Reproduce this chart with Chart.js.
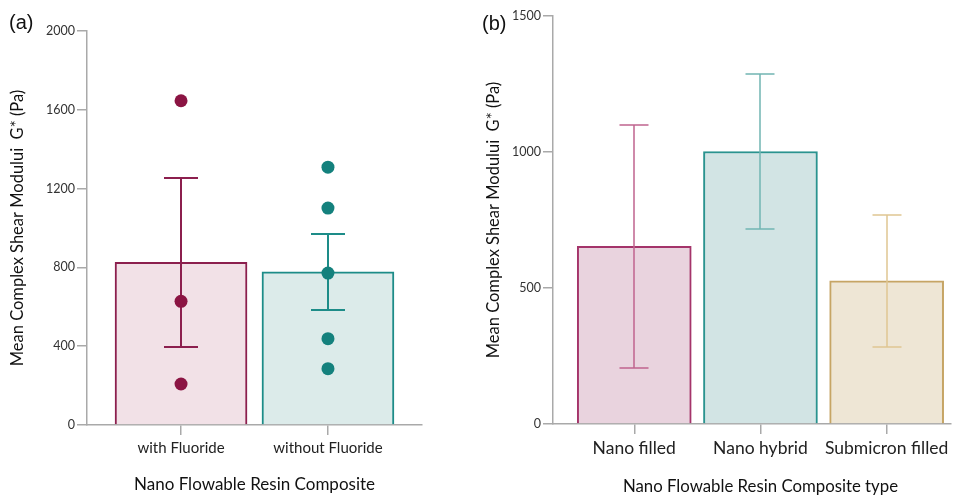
<!DOCTYPE html>
<html><head><meta charset="utf-8">
<script src="https://cdn.jsdelivr.net/npm/chart.js@4"></script>
<style>
html,body{margin:0;padding:0;background:#fff;width:959px;height:497px;overflow:hidden}
.w{position:absolute;top:0}
canvas{display:block}
</style></head><body>
<div class="w" style="left:0;width:470px;height:497px"><canvas id="ca" width="470" height="497"></canvas></div>
<div class="w" style="left:470px;width:489px;height:497px"><canvas id="cb" width="489" height="497"></canvas></div>
<script>
// ---- Panel (a) data ----
const catsA = ['with Fluoride', 'without Fluoride'];
const meansA = [826, 778];
const semA = [428, 194];
const pointsWith = [1646, 628, 208];
const pointsWithout = [1309, 1101, 771, 438, 286];
const ticksA = [0, 400, 800, 1200, 1600, 2000];

// ---- Panel (b) data ----
const catsB = ['Nano filled', 'Nano hybrid', 'Submicron filled'];
const meansB = [653, 1002, 526];
const sdB = [446, 284, 243];
const ticksB = [0, 500, 1000, 1500];

const AXIS = '#a9a9a9';
const FONT = 'Lato';

function errPlugin(means, errs, colors, width, cap, barIndex) {
  return {
    id: 'errbars',
    afterDatasetDraw(chart, args) {
      if (args.index !== barIndex) return;
      const ctx = chart.ctx, xs = chart.scales.x, ys = chart.scales.y;
      ctx.save();
      ctx.lineWidth = width;
      means.forEach((m, i) => {
        const x = Math.round(xs.getPixelForValue(i));
        const y1 = Math.round(ys.getPixelForValue(m + errs[i]));
        const y2 = Math.round(ys.getPixelForValue(m - errs[i]));
        ctx.strokeStyle = colors[i];
        ctx.beginPath();
        ctx.moveTo(x, y1); ctx.lineTo(x, y2);
        ctx.moveTo(x - cap / 2, y1); ctx.lineTo(x + cap / 2, y1);
        ctx.moveTo(x - cap / 2, y2); ctx.lineTo(x + cap / 2, y2);
        ctx.stroke();
      });
      ctx.restore();
    }
  };
}
function letterPlugin(txt, x, y) {
  return {
    id: 'letter',
    afterDraw(chart) {
      const c = chart.ctx;
      c.save();
      c.font = '20px "Liberation Sans"';
      c.fillStyle = '#111';
      c.textBaseline = 'middle';
      c.textAlign = 'left';
      c.fillText(txt, x, y);
      c.restore();
    }
  };
}
// x-axis title centred over the category span (as in the reference panel b)
function xTitlePlugin(txt, n, y, size) {
  return {
    id: 'xtitle',
    afterDraw(chart) {
      const c = chart.ctx, xs = chart.scales.x;
      const cx = (xs.getPixelForValue(0) + xs.getPixelForValue(n - 1)) / 2;
      c.save();
      c.font = size + 'px ' + FONT;
      c.fillStyle = '#111';
      c.textBaseline = 'middle';
      c.textAlign = 'center';
      c.fillText(txt, cx, y);
      c.restore();
    }
  };
}

function xScale(cats, min, max, fontSize, height, titleText, titlePadB) {
  return {
    type: 'linear', min: min, max: max, offset: false,
    afterBuildTicks: s => { s.ticks = cats.map((c, i) => ({ value: i })); },
    ticks: { callback: v => cats[v], font: { family: FONT, size: fontSize }, color: '#222', padding: 4, maxRotation: 0, autoSkip: false },
    grid: { offset: false, drawOnChartArea: false, drawTicks: true, tickLength: 10, color: AXIS, lineWidth: 1.5 },
    border: { color: AXIS, width: 1.5 },
    title: { display: !!titleText, text: titleText || '', font: { family: FONT, size: 17 }, color: '#111', padding: { top: 0, bottom: titlePadB } },
    afterFit: s => { s.height = height; }
  };
}
function yScale(ticks, max, width, titlePadT) {
  return {
    min: 0, max: max,
    afterBuildTicks: s => { s.ticks = ticks.map(v => ({ value: v })); },
    ticks: { callback: v => String(v), font: { family: FONT, size: 12.5 }, color: '#333', padding: 2 },
    grid: { drawOnChartArea: false, drawTicks: true, tickLength: 10, color: AXIS, lineWidth: 1.5 },
    border: { color: AXIS, width: 1.5 },
    title: { display: true, text: 'Mean Complex Shear Modului  G* (Pa)', font: { family: FONT, size: 16.5 }, color: '#111', padding: { top: titlePadT, bottom: 0 } },
    afterFit: s => { s.width = width; }
  };
}

function draw() {
  new Chart(document.getElementById('ca'), {
    type: 'bar',
    data: {
      datasets: [
        {
          type: 'bar', order: 2,
          data: meansA.map((v, i) => ({ x: i, y: v })),
          backgroundColor: ['#f2e1e7', '#dcebea'],
          borderColor: ['#8c1f4e', '#1d8c88'],
          borderWidth: 2, barThickness: 132
        },
        {
          type: 'scatter', order: 1,
          data: pointsWith.map(v => ({ x: 0, y: v })),
          backgroundColor: '#8b1443', borderWidth: 0, pointRadius: 6.5
        },
        {
          type: 'scatter', order: 0,
          data: pointsWithout.map(v => ({ x: 1, y: v })),
          backgroundColor: '#14817d', borderWidth: 0, pointRadius: 6.5
        }
      ]
    },
    options: {
      responsive: false, animation: false, events: [],
      layout: { padding: { left: 0, top: 31, right: 48, bottom: 0 } },
      plugins: { legend: { display: false }, tooltip: { enabled: false } },
      scales: {
        x: xScale(catsA, -0.64, 1.64, 15, 72, 'Nano Flowable Resin Composite', 2),
        y: yScale(ticksA, 2000, 87, 7.5)
      }
    },
    plugins: [errPlugin(meansA, semA, ['#8c1f4e', '#1d8c88'], 2, 34, 0), letterPlugin('(a)', 9, 23)]
  });

  new Chart(document.getElementById('cb'), {
    type: 'bar',
    data: {
      datasets: [
        {
          type: 'bar',
          data: meansB.map((v, i) => ({ x: i, y: v })),
          backgroundColor: ['#e9d3de', '#d2e4e4', '#eee6d5'],
          borderColor: ['#a4346a', '#2a938f', '#c6a565'],
          borderWidth: 2, barThickness: 114
        }
      ]
    },
    options: {
      responsive: false, animation: false, events: [],
      layout: { padding: { left: 0, top: 16, right: 8, bottom: 0 } },
      plugins: { legend: { display: false }, tooltip: { enabled: false } },
      scales: {
        x: xScale(catsB, -0.644, 2.51, 17.5, 73, '', 0),
        y: yScale(ticksB, 1500, 83, 13.5)
      }
    },
    plugins: [errPlugin(meansB, sdB, ['#c0648e', '#72b5b2', '#e0c692'], 1.5, 29, 0), letterPlugin('(b)', 12, 24),
              xTitlePlugin('Nano Flowable Resin Composite type', catsB.length, 487, 16.8)]
  });
}
Promise.all([document.fonts.load('16px Lato'), document.fonts.load('20px "Liberation Sans"')]).then(draw, draw);
</script>
</body></html>
